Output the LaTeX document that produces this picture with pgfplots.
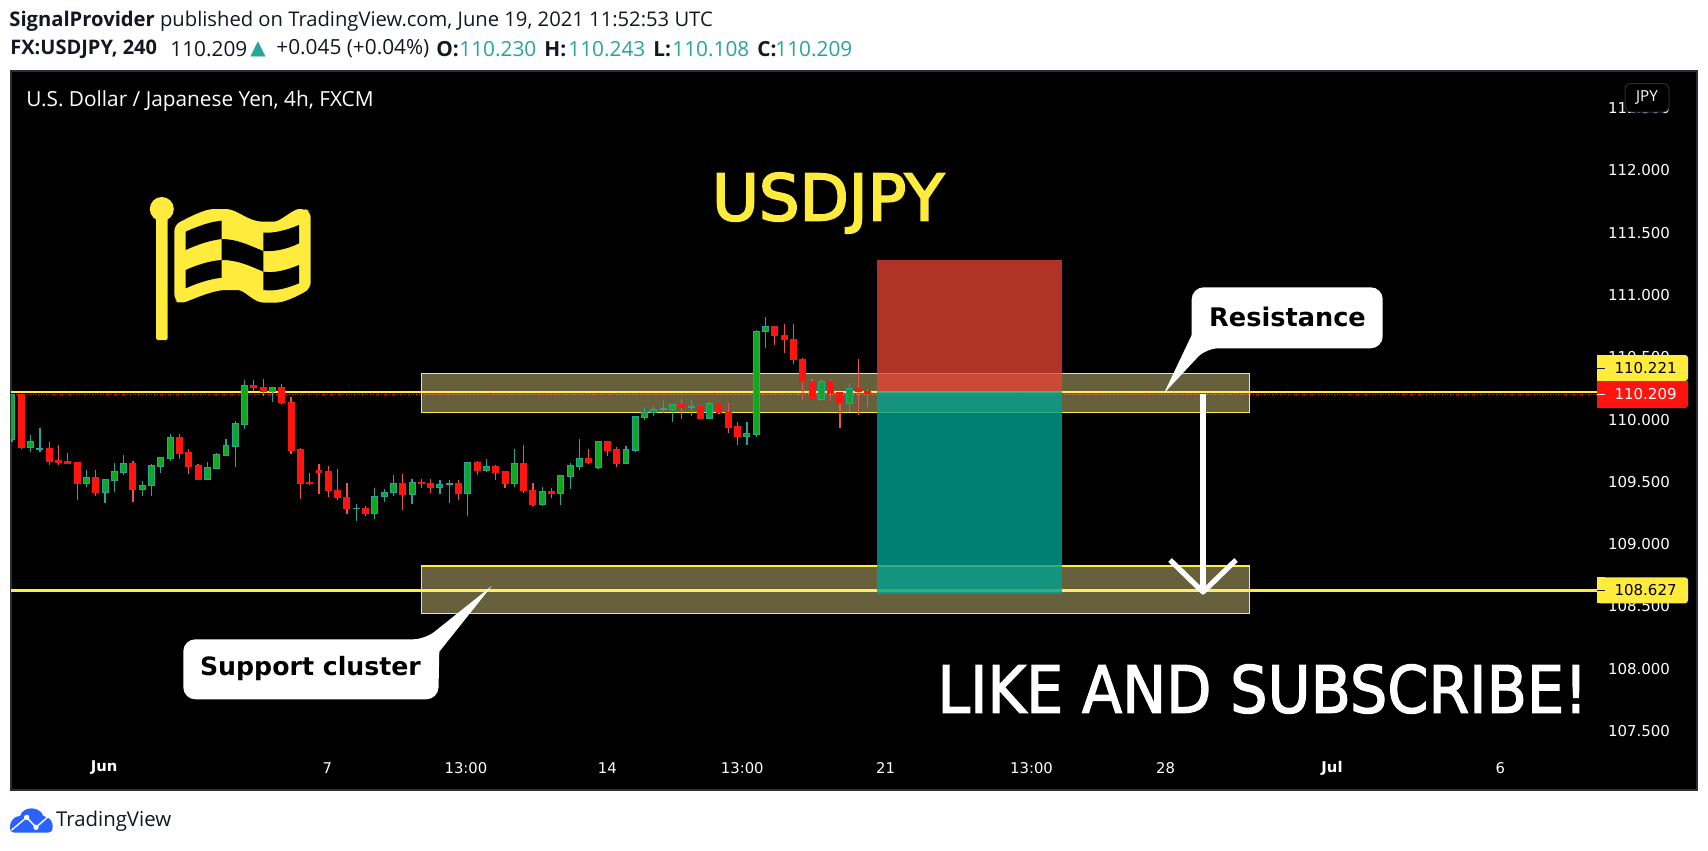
\documentclass[border=0pt]{standalone}
\usepackage{fontspec}
\usepackage{graphicx}
\usepackage{pgfplots}
\usepackage{pgfplotstable}
\pgfplotsset{compat=1.18}
\setmainfont{Open Sans}
\newfontfamily\djv{DejaVu Sans}
\newfontfamily\usdf[FakeBold=3]{DejaVu Sans}
\newfontfamily\likef[FakeBold=2]{DejaVu Sans}
\definecolor{tvyellow}{HTML}{FFEB3B}
\definecolor{tvred}{HTML}{FF140F}
\definecolor{candlered}{HTML}{FF140F}
\definecolor{candlegreen}{HTML}{11A820}
\definecolor{tvteal}{HTML}{26A69A}
\definecolor{wickred}{HTML}{EF5350}
\definecolor{frame}{HTML}{2A2E39}
\definecolor{boxfill}{RGB}{255,240,150}
\definecolor{posred}{RGB}{237,67,53}
\definecolor{posgreen}{RGB}{0,160,144}
\definecolor{tvtext}{HTML}{131722}
\definecolor{tvblue}{HTML}{2962FF}

% rising candles: index, open, high, low, close
\pgfplotstableread{
i o h l c
0 109.840 110.200 109.819 110.200
2 109.779 109.880 109.739 109.821
3 109.763 109.933 109.739 109.768
8 109.483 109.597 109.456 109.533
10 109.411 109.517 109.328 109.517
11 109.515 109.648 109.416 109.581
12 109.579 109.712 109.552 109.645
14 109.435 109.504 109.384 109.469
15 109.467 109.645 109.384 109.629
16 109.627 109.701 109.568 109.693
17 109.691 109.888 109.664 109.853
21 109.523 109.656 109.512 109.613
22 109.611 109.728 109.603 109.717
23 109.715 109.848 109.715 109.789
24 109.787 109.992 109.616 109.965
25 109.963 110.320 109.928 110.277
28 110.227 110.261 110.139 110.261
37 109.283 109.320 109.184 109.288
39 109.243 109.448 109.200 109.381
40 109.379 109.440 109.336 109.413
41 109.411 109.552 109.384 109.485
43 109.395 109.520 109.320 109.493
46 109.451 109.512 109.400 109.477
47 109.475 109.512 109.328 109.485
49 109.403 109.653 109.224 109.653
51 109.595 109.680 109.576 109.621
54 109.483 109.768 109.456 109.645
57 109.315 109.456 109.304 109.421
59 109.403 109.549 109.312 109.549
60 109.547 109.648 109.440 109.629
61 109.627 109.848 109.592 109.685
63 109.619 109.821 109.600 109.821
66 109.651 109.792 109.640 109.760
67 109.755 110.021 109.736 110.021
68 110.019 110.101 110.000 110.061
69 110.059 110.109 110.027 110.085
70 110.083 110.149 110.056 110.088
71 110.083 110.125 109.984 110.125
73 110.099 110.157 110.032 110.109
75 110.011 110.141 110.011 110.133
79 109.867 109.984 109.800 109.885
80 109.883 110.720 109.864 110.709
81 110.707 110.824 110.576 110.749
87 110.163 110.325 110.152 110.309
90 110.131 110.293 110.064 110.253
}\upT
% falling candles: index, open, high, low, close
\pgfplotstableread{
i o h l c
1 110.200 110.200 109.760 109.779
4 109.765 109.821 109.632 109.667
5 109.669 109.800 109.632 109.659
6 109.661 109.733 109.640 109.651
7 109.653 109.653 109.355 109.483
9 109.533 109.597 109.384 109.411
13 109.645 109.669 109.336 109.435
18 109.853 109.888 109.680 109.731
19 109.733 109.760 109.560 109.627
20 109.629 109.640 109.512 109.523
26 110.277 110.320 110.232 110.261
27 110.261 110.328 110.192 110.227
29 110.261 110.288 110.128 110.139
30 110.141 110.184 109.720 109.755
31 109.757 109.776 109.360 109.491
32 109.493 109.568 109.472 109.483
33 109.592 109.640 109.400 109.579
34 109.581 109.624 109.376 109.427
35 109.429 109.600 109.352 109.371
36 109.373 109.488 109.240 109.283
38 109.285 109.304 109.224 109.243
42 109.485 109.560 109.272 109.395
44 109.493 109.520 109.448 109.483
45 109.485 109.520 109.408 109.451
48 109.485 109.512 109.352 109.403
50 109.653 109.664 109.552 109.595
52 109.621 109.632 109.512 109.579
53 109.581 109.581 109.448 109.483
55 109.645 109.800 109.408 109.427
56 109.429 109.488 109.304 109.315
58 109.421 109.448 109.368 109.403
62 109.685 109.760 109.640 109.659
64 109.821 109.832 109.704 109.755
65 109.757 109.784 109.616 109.651
72 110.125 110.168 110.008 110.101
74 110.109 110.115 110.011 110.011
76 110.133 110.133 110.048 110.059
77 110.061 110.136 109.896 109.939
78 109.941 109.984 109.800 109.867
82 110.749 110.749 110.600 110.675
83 110.677 110.768 110.536 110.643
84 110.645 110.768 110.448 110.483
85 110.485 110.496 110.160 110.307
86 110.309 110.325 110.163 110.163
88 110.309 110.325 110.152 110.219
89 110.221 110.221 109.936 110.131
91 110.253 110.488 110.040 110.227
92 110.229 110.245 110.104 110.208
}\downT

\newcommand{\candles}[4]{%
  \pgfplotstablegetrowsof{#1}%
  \pgfmathtruncatemacro\lastrow{\pgfplotsretval-1}%
  \pgfplotsforeachungrouped \r in {0,...,\lastrow}{%
    \pgfplotstablegetelem{\r}{i}\of{#1}\let\vi\pgfplotsretval
    \pgfplotstablegetelem{\r}{o}\of{#1}\let\vo\pgfplotsretval
    \pgfplotstablegetelem{\r}{h}\of{#1}\let\vh\pgfplotsretval
    \pgfplotstablegetelem{\r}{l}\of{#1}\let\vl\pgfplotsretval
    \pgfplotstablegetelem{\r}{c}\of{#1}\let\vc\pgfplotsretval
    \pgfmathsetmacro\xa{\vi-0.32}%
    \pgfmathsetmacro\xb{\vi+0.32}%
    \edef\temp{%
      \noexpand\addplot[#4,line width=0.6pt,forget plot] coordinates {(\vi,\vl)(\vi,\vh)};
      \noexpand\addplot[fill=#2,draw=#3,line width=0.5pt,forget plot] coordinates {(\xa,\vo)(\xb,\vo)(\xb,\vc)(\xa,\vc)} -- cycle;
    }\temp
  }%
}
\newcommand{\hd}[3]{\node[anchor=west,inner sep=0,text=#3,font=\fontsize{10.4}{12}\selectfont] at (#1,49) {#2};}

\begin{document}
\begin{tikzpicture}
\path[use as bounding box,fill=white] (0,0) rectangle (854pt,-425.5pt);
\begin{axis}[
  at={(5.5pt,-395pt)},anchor=south west,
  scale only axis,width=842.75pt,height=359.5pt,
  xmin=-0.11,xmax=181.08,ymin=107.026,ymax=112.799,
  axis background/.style={fill=black},
  axis line style={draw=frame,line width=1pt},
  tick style={draw=none},major tick length=0pt,
  xtick={9.9,33.9,48.8,64,78.5,93.9,109.6,124,141.9,160},
  xticklabels={\bfseries Jun,7,13:00,14,13:00,21,13:00,28,\bfseries Jul,6},
  xticklabel style={font=\djv\fontsize{7.4}{9}\selectfont,text=white,anchor=center,yshift=11pt},
  ytick={107.5,108,108.5,109,109.5,110,110.5,111,111.5,112,112.5},
  yticklabel pos=right,
  yticklabel style={font=\djv\fontsize{7.5}{9}\selectfont,text=white,anchor=east,xshift=-9.7pt,
    /pgf/number format/.cd,fixed,fixed zerofill,precision=3,1000 sep={},assume math mode=true},
]
% last price, then horizontal levels
\addplot[tvred,line width=0.35pt,densely dotted,forget plot] coordinates {(-0.11,110.206)(170.4,110.206)};
\addplot[tvyellow,line width=1.4pt,forget plot] coordinates {(-0.11,110.222)(170.4,110.222)};
\addplot[tvyellow,line width=1.4pt,forget plot] coordinates {(-0.11,108.627)(170.4,108.627)};
% zones
\addplot[fill=boxfill,fill opacity=0.4,draw=tvyellow,line width=0.6pt,forget plot] coordinates {(44.03,110.059)(133,110.059)(133,110.372)(44.03,110.372)} -- cycle;
\addplot[fill=boxfill,fill opacity=0.4,draw=tvyellow,line width=0.6pt,forget plot] coordinates {(44.03,108.445)(133,108.445)(133,108.825)(44.03,108.825)} -- cycle;
% risk / reward
\addplot[fill=posred,fill opacity=0.75,draw=none,forget plot] coordinates {(92.93,110.221)(112.84,110.221)(112.84,111.281)(92.93,111.281)} -- cycle;
\addplot[fill=posgreen,fill opacity=0.8,draw=none,forget plot] coordinates {(92.93,108.603)(112.84,108.603)(112.84,110.221)(92.93,110.221)} -- cycle;
% candles
\candles{\upT}{candlegreen}{tvteal}{tvteal}
\candles{\downT}{candlered}{candlered}{wickred}
\end{axis}

\begin{scope}[x=0.5pt,y=-0.5pt]
% header
\node[anchor=west,inner sep=0,text=tvtext,font=\fontsize{10.1}{12}\selectfont] at (9,21)
  {\textbf{SignalProvider} published on TradingView.com, June 19, 2021 11:52:53 UTC};
\hd{10}{\textbf{\fontsize{10}{12}\selectfont FX:USDJPY, 240}}{tvtext}
\hd{170}{110.209}{tvtext}
\node[anchor=west,inner sep=0,text=tvteal,font=\djv\fontsize{10}{12}\selectfont] at (250,49) {▲};
\hd{276}{+0.045 (+0.04\%)}{tvtext}
\hd{436}{\textbf{O:}}{tvtext}
\hd{459}{110.230}{tvteal}
\hd{544}{\textbf{H:}}{tvtext}
\hd{568}{110.243}{tvteal}
\hd{653}{\textbf{L:}}{tvtext}
\hd{672}{110.108}{tvteal}
\hd{757}{\textbf{C:}}{tvtext}
\hd{775}{110.209}{tvteal}
\node[anchor=west,inner sep=0,text=white,font=\fontsize{10.4}{12}\selectfont] at (26,101)
  {U.S. Dollar / Japanese Yen, 4h, FXCM};
% big texts
\node[text=tvyellow,inner sep=0,font=\usdf\fontsize{32}{36}\selectfont] at (828,203) {USDJPY};
\node[anchor=west,text=white,inner sep=0,font=\likef\fontsize{32.5}{36}\selectfont] at (937,689) {\scalebox{0.905}[1]{LIKE AND SUBSCRIBE!}};
% arrow
\draw[white,line width=2.8pt] (1203,394) -- (1203,590);
\draw[white,line width=2.6pt,line join=round] (1170,560) -- (1203,592) -- (1236,560);
% callouts
\fill[white,rounded corners=6pt] (1191.7,287.3) -- (1382.7,287.3) -- (1382.7,348.3) -- (1206,348.3) [sharp corners] -- (1164,393.3) -- (1191.7,335) [rounded corners=6pt] -- cycle;
\node[inner sep=0,font=\djv\bfseries\fontsize{12.8}{14}\selectfont,text=black] at (1287.5,317) {Resistance};
\fill[white,rounded corners=6pt] (183.3,639.3) -- (425,639.3) [sharp corners] -- (491.7,586) -- (439.3,651.7) [rounded corners=6pt] -- (438.3,699.3) -- (183.3,699.3) -- cycle;
\node[inner sep=0,font=\djv\bfseries\fontsize{12.6}{14}\selectfont,text=black] at (310.5,669) {Support cluster};
% price labels
\fill[tvyellow,rounded corners=1.5pt] (1597,355) rectangle (1688,381);
\fill[tvyellow] (1597,355) rectangle (1605,381);
\fill[tvred,rounded corners=1.5pt] (1597,381) rectangle (1688,408);
\fill[tvred] (1597,381) rectangle (1605,408);
\fill[tvred] (1680,381) rectangle (1688,385);
\fill[tvyellow,rounded corners=1.5pt] (1597,577.3) rectangle (1688,603.3);
\fill[tvyellow] (1597,577.3) rectangle (1605,603.3);
\draw[tvtext,line width=0.4pt] (1597,368) -- (1605,368);
\draw[white,line width=0.4pt] (1597,394) -- (1605,394);
\draw[tvtext,line width=0.4pt] (1597,590.3) -- (1605,590.3);
\node[anchor=east,inner sep=0,text=black,font=\djv\fontsize{7.5}{9}\selectfont] at (1677,368) {110.221};
\node[anchor=east,inner sep=0,text=white,font=\djv\fontsize{7.5}{9}\selectfont] at (1677,394.5) {110.209};
\node[anchor=east,inner sep=0,text=black,font=\djv\fontsize{7.5}{9}\selectfont] at (1677,590.3) {108.627};
% currency box
\draw[fill=black,draw=frame,line width=0.5pt,rounded corners=3pt] (1625,83.5) rectangle (1669,112);
\node[inner sep=0,text=white,font=\fontsize{7.6}{9}\selectfont] at (1647,98) {JPY};
\end{scope}

% flag
\begin{scope}[shift={(60pt,-85pt)},x=0.16667pt,y=-0.16667pt]
\fill[tvyellow,rounded corners=1pt] (108,140) rectangle (143,510);
\fill[tvyellow] (125.5,117) circle [radius=36];
\fill[tvyellow,rounded corners=3pt] (163,165) .. controls (210,140) and (255,117) .. (300,117)
  .. controls (350,117) and (385,155) .. (445,155)
  .. controls (480,155) and (520,117) .. (555,117)
  -- (572,125) -- (572,355)
  .. controls (530,380) and (490,398) .. (450,398)
  .. controls (400,398) and (375,360) .. (335,360)
  .. controls (280,360) and (225,385) .. (180,402)
  -- (163,390) -- cycle;
\fill[black] (197,185) .. controls (230,170) and (270,155) .. (305,152) -- (305,207) .. controls (265,212) and (230,225) .. (197,240) -- cycle;
\fill[black] (305,207) .. controls (350,207) and (385,225) .. (430,243) -- (430,305) .. controls (385,285) and (350,270) .. (305,270) -- cycle;
\fill[black] (430,188) .. controls (465,190) and (500,180) .. (537,165) -- (537,220) .. controls (500,238) and (465,245) .. (430,243) -- cycle;
\fill[black] (197,300) .. controls (230,285) and (270,272) .. (305,270) -- (305,323) .. controls (265,328) and (230,340) .. (197,355) -- cycle;
\fill[black] (430,305) .. controls (465,310) and (500,300) .. (537,285) -- (537,340) .. controls (500,355) and (465,365) .. (430,360) -- cycle;
\end{scope}

% TradingView logo
\begin{scope}[shift={(0pt,-370pt)},x=0.16667pt,y=-0.16667pt]
\fill[tvblue] (30,262) .. controls (30,240) and (45,228) .. (60,228)
  .. controls (65,212) and (80,205) .. (95,205)
  .. controls (112,205) and (125,215) .. (130,228)
  .. controls (150,230) and (160,248) .. (158,262)
  .. controls (158,272) and (152,278) .. (145,278) -- (42,278)
  .. controls (35,278) and (30,272) .. (30,262) -- cycle;
\draw[white,line width=0.7pt] (35,270) -- (80,232) -- (108,262) -- (150,225);
\fill[white] (80,232) circle [radius=8];
\fill[white] (108,262) circle [radius=8];
\node[anchor=west,inner sep=0,text=tvtext,font=\fontsize{10.2}{12}\selectfont] at (167,243) {TradingView};
\end{scope}
\end{tikzpicture}
\end{document}
